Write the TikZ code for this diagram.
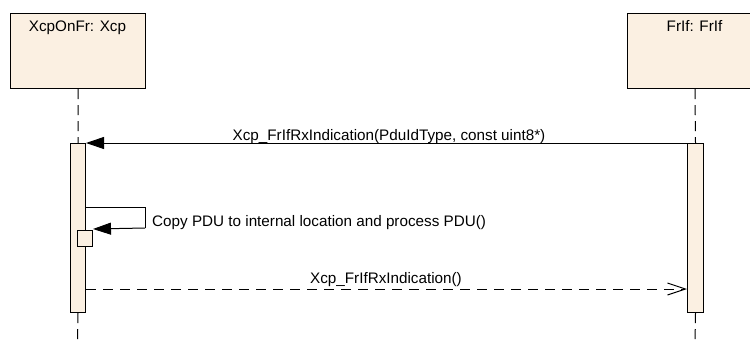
\documentclass[tikz,border=0pt]{standalone}
\usepackage{fontspec}
\setmainfont{Liberation Sans}
\usetikzlibrary{arrows.meta}
\definecolor{actfill}{RGB}{251,240,226}
\begin{document}
\begin{tikzpicture}[x=1bp,y=-1bp,
  font=\fontsize{15.3}{17}\selectfont,
  head/.style={draw=black, fill=actfill, line width=1bp, minimum width=135bp, minimum height=75bp, anchor=north west, inner sep=0pt},
  actbox/.style={draw=black, fill=actfill, line width=1bp, anchor=north west, inner sep=0pt},
  life/.style={line width=1bp, dash pattern=on 10bp off 6bp},
  msg/.style={line width=1bp, -{Triangle[length=18bp,width=12bp]}},
  ret/.style={line width=1bp, dash pattern=on 10bp off 7bp, -{Straight Barb[length=18bp,width=12bp]}},
  lbl/.style={inner sep=0pt, anchor=base}]
\clip (0,0) rectangle (750,340);
\fill[white] (0,0) rectangle (750,340);
% headers
\node[head] (hA) at (10,13) {};
\node[head] (hB) at (627,13) {};
\node[lbl] (tA) at (77.5,31.5) {XcpOnFr: Xcp};
\node[lbl] (tB) at (694.5,31.5) {FrIf: FrIf};
% activations
\node[actbox, minimum width=15bp, minimum height=169bp] (actA) at (70,143) {};
\node[actbox, minimum width=16bp, minimum height=169bp] (actB) at (687,143) {};
% lifelines
\coordinate (endA) at (77.5,345);
\coordinate (endB) at (695,345);
\draw[life] (hA.south) -- (actA.north);
\draw[life] (hB.south) -- (actB.north);
\draw[life] (actA.south) -- (endA);
\draw[life] (actB.south) -- (endB);
% message 1
\draw[msg] (actB.north west) -- (actA.north east);
\node[lbl] (m1) at (389,140) {Xcp\_FrIfRxIndication(PduIdType, const uint8*)};
% self message
\node[actbox, minimum width=15bp, minimum height=16bp] (subA) at (77,230) {};
\coordinate (sA) at ([yshift=-64bp]actA.north east);
\draw[line width=1bp] (sA) -- ++(59,0) -- ++(0,21) coordinate (sB);
\draw[msg] (sB) -- ([yshift=1bp]subA.north east);
\node[lbl, anchor=base west] (m2) at (152,226) {Copy PDU to internal location and process PDU()};
% return
\coordinate (rA) at ([yshift=-146bp]actA.north east);
\draw[ret] (rA) -- (rA -| actB.west);
\node[lbl] (m3) at (386,283) {Xcp\_FrIfRxIndication()};
\end{tikzpicture}
\end{document}
